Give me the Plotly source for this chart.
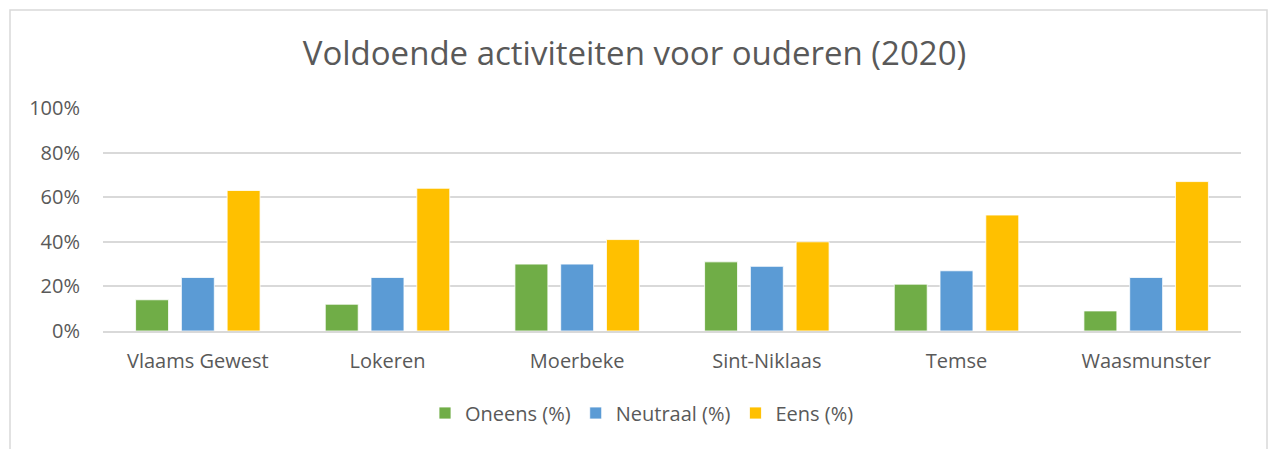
import plotly.graph_objects as go

categories = ["Vlaams Gewest", "Lokeren", "Moerbeke", "Sint-Niklaas", "Temse", "Waasmunster"]
oneens = [14, 12, 30, 31, 21, 9]
neutraal = [24, 24, 30, 29, 27, 24]
eens = [63, 64, 41, 40, 52, 67]
series_names = ["Oneens (%)", "Neutraal (%)", "Eens (%)"]
colors = ["#70AD47", "#5B9BD5", "#FFC000"]
y_ticks = [0, 20, 40, 60, 80, 100]
y_tick_labels = ["0%", "20%", "40%", "60%", "80%", "100%"]

FONT = "Open Sans"
TXT = "#595959"

fig = go.Figure()
for name, vals, col in zip(series_names, [oneens, neutraal, eens], colors):
    fig.add_trace(go.Bar(
        x=categories, y=vals, name=name,
        marker=dict(color=col, line=dict(color="white", width=0.8)),
    ))

W, H = 1269, 449
L, R, T, B = 103, 1241, 108, 331
fig.update_layout(
    width=W, height=H,
    margin=dict(l=L, r=W - R, t=T, b=H - B, autoexpand=False),
    paper_bgcolor="white", plot_bgcolor="white",
    barmode="group", bargap=0.276, bargroupgap=0.28,
    title=dict(text="Voldoende activiteiten voor ouderen (2020)",
               x=0.5, xanchor="center", y=1 - 53 / H, yanchor="middle",
               font=dict(family=FONT, size=33, color=TXT)),
    font=dict(family=FONT, color=TXT),
    showlegend=True,
    legend=dict(orientation="h", x=0.5 - 30 / (R - L), xanchor="center",
                y=-(413 - B) / (B - T), yanchor="middle",
                font=dict(family=FONT, size=20, color=TXT),
                itemwidth=30, traceorder="normal"),
    xaxis=dict(showgrid=False, showline=True, linecolor="#D9D9D9", linewidth=1.5,
               ticks="", tickfont=dict(family=FONT, size=20, color=TXT),
               ticklabelstandoff=11),
    yaxis=dict(range=[0, 100], tickvals=y_ticks, ticktext=y_tick_labels,
               showgrid=True, gridcolor="#D9D9D9", gridwidth=1.5,
               zeroline=False, showline=False, ticks="",
               tickfont=dict(family=FONT, size=20, color=TXT),
               ticklabelstandoff=22),
)
fig.add_shape(type="rect", xref="paper", yref="paper",
              x0=(10 - L) / (R - L), x1=(1267 - L) / (R - L),
              y0=(B - 460) / (B - T), y1=(B - 10) / (B - T),
              line=dict(color="#D9D9D9", width=1.5), fillcolor="rgba(0,0,0,0)",
              layer="below")
fig.write_html("out.html", config={"displayModeBar": False},
               post_script="document.body.style.margin='0';document.body.style.overflow='hidden';")
